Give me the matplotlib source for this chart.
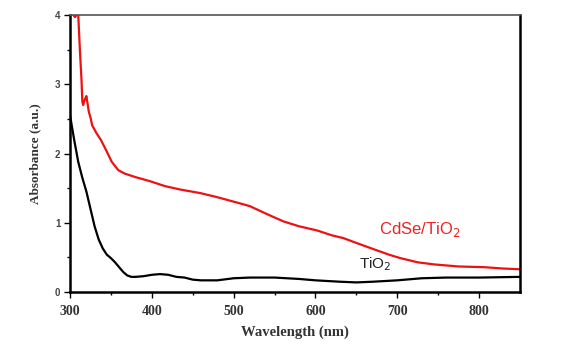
import numpy as np
import matplotlib.pyplot as plt

# CdSe/TiO2 absorbance
wl_cdse = [304, 306, 308, 310, 312, 314, 315, 316, 318, 320, 321, 323, 325, 327,
           332, 338, 344, 351, 359, 367, 380, 398, 416, 435, 459, 480, 508, 520,
           540, 561, 580, 602, 620, 634, 650, 671, 690, 704, 725, 745, 775, 806,
           830, 850]
abs_cdse = [4.0, 3.97, 4.0, 4.0, 3.5, 3.06, 2.75, 2.7, 2.78, 2.83, 2.75, 2.6, 2.52, 2.41,
            2.3, 2.19, 2.05, 1.88, 1.76, 1.71, 1.66, 1.6, 1.53, 1.48, 1.43, 1.37, 1.28, 1.24,
            1.13, 1.02, 0.95, 0.89, 0.82, 0.78, 0.71, 0.62, 0.54, 0.49, 0.43, 0.40, 0.37, 0.36,
            0.34, 0.33]

# TiO2 absorbance
wl_tio2 = [300, 305, 310, 315, 320, 325, 330, 335, 340, 345, 350, 355, 360, 365,
           370, 375, 380, 390, 400, 410, 420, 430, 440, 450, 460, 480, 500, 520,
           550, 580, 600, 630, 650, 670, 700, 730, 760, 800, 850]
abs_tio2 = [2.55, 2.2, 1.88, 1.65, 1.45, 1.2, 0.95, 0.76, 0.63, 0.54, 0.49, 0.43, 0.36, 0.29,
            0.24, 0.22, 0.22, 0.23, 0.25, 0.26, 0.25, 0.22, 0.21, 0.18, 0.17, 0.17, 0.2, 0.21,
            0.21, 0.19, 0.17, 0.15, 0.14, 0.15, 0.17, 0.2, 0.21, 0.21, 0.22]

fig = plt.figure(figsize=(5.79, 3.49), dpi=100)
ax = fig.add_axes([0.121, 0.163, 0.777, 0.794])

ax.plot(wl_cdse, abs_cdse, color="#ee1111", linewidth=1.6)
ax.plot(wl_tio2, abs_tio2, color="black", linewidth=1.6)

ax.set_xlim(300, 850)
ax.set_ylim(0, 4)
ax.set_xticks([300, 400, 500, 600, 700, 800])
ax.set_xticks(np.arange(350, 850, 100), minor=True)
ax.set_yticks([0, 1, 2, 3, 4])
ax.set_yticks([0.5, 1.5, 2.5, 3.5], minor=True)
ax.tick_params(axis="both", which="major", direction="out", length=4, width=1)
ax.tick_params(axis="both", which="minor", direction="out", length=2.5, width=1)
ax.tick_params(axis="x", pad=5)
ax.tick_params(axis="y", pad=3)

for lab in ax.get_xticklabels():
    lab.set_fontfamily("Liberation Serif")
    lab.set_fontweight("bold")
    lab.set_fontsize(10)
    lab.set_color("#333333")
for lab in ax.get_yticklabels():
    lab.set_fontfamily("Liberation Sans")
    lab.set_fontweight("bold")
    lab.set_fontsize(7)
    lab.set_color("#444444")

ax.set_xlabel("Wavelength (nm)", fontfamily="Liberation Serif", fontweight="bold",
              fontsize=10.5, color="#333333", labelpad=6)
ax.set_ylabel("Absorbance (a.u.)", fontfamily="Liberation Serif", fontweight="bold",
              fontsize=9.5, color="#333333", labelpad=10)

for side in ["left", "right", "bottom"]:
    ax.spines[side].set_linewidth(1.8)
    ax.spines[side].set_color("black")
ax.spines["top"].set_linewidth(1.2)
ax.spines["top"].set_color("#555555")

ax.text(728, 0.9, "CdSe/TiO$_2$", color="#ee2222", fontsize=12,
        fontfamily="Liberation Sans", ha="center", va="center")
ax.text(673, 0.41, "TiO$_2$", color="#222222", fontsize=11,
        fontfamily="Liberation Sans", ha="center", va="center")

plt.savefig("out.png", dpi=100)
